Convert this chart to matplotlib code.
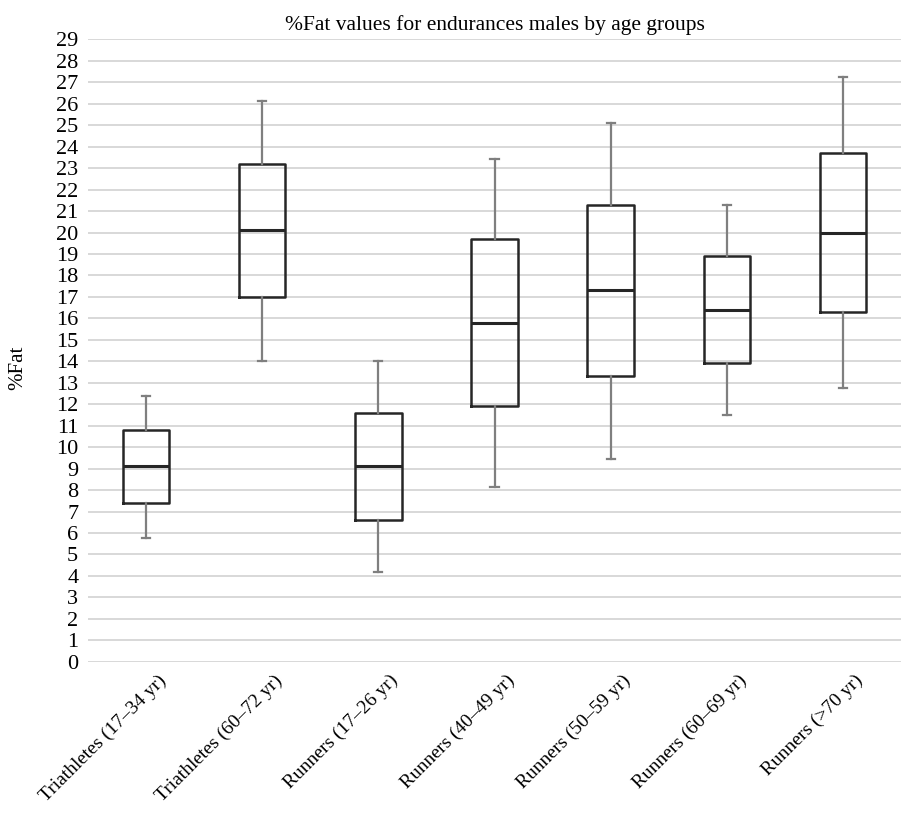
import matplotlib
matplotlib.use("Agg")
from matplotlib import pyplot as plt
from matplotlib import transforms

groups = ["Triathletes (17\u201334 yr)", "Triathletes (60\u201372 yr)", "Runners (17\u201326 yr)",
          "Runners (40\u201349 yr)", "Runners (50\u201359 yr)", "Runners (60\u201369 yr)", "Runners (>70 yr)"]
whisker_low = [5.75, 14.0, 4.2, 8.15, 9.45, 11.5, 12.75]
q1 = [7.4, 17.0, 6.6, 11.9, 13.3, 13.9, 16.3]
median = [9.1, 20.1, 9.1, 15.8, 17.3, 16.4, 20.0]
q3 = [10.8, 23.2, 11.6, 19.7, 21.3, 18.9, 23.7]
whisker_high = [12.4, 26.15, 14.0, 23.45, 25.1, 21.3, 27.25]

plt.rcParams['font.family'] = ['Liberation Serif', 'DejaVu Serif']

stats = []
for i in range(len(groups)):
    stats.append({'whislo': whisker_low[i], 'q1': q1[i], 'med': median[i],
                  'q3': q3[i], 'whishi': whisker_high[i], 'fliers': [], 'label': groups[i]})

fig = plt.figure(figsize=(9.01, 8.21), dpi=100)
ax = fig.add_axes([0.0977, 0.194, 0.9023, 0.758])

ax.bxp(stats, widths=0.4, showfliers=False,
       boxprops=dict(color='#262626', linewidth=1.8),
       medianprops=dict(color='#262626', linewidth=2.2),
       whiskerprops=dict(color='#7f7f7f', linewidth=1.6),
       capprops=dict(color='#7f7f7f', linewidth=1.6), capwidths=0.07)

ax.set_ylim(0, 29)
ax.set_xlim(0.5, 7.5)
ax.set_yticks(range(0, 30))
ax.yaxis.grid(True, color='#d2d2d2', linewidth=1.2)
ax.set_axisbelow(True)
for s in ax.spines.values():
    s.set_visible(False)
ax.tick_params(axis='both', length=0)
ax.tick_params(axis='y', pad=7, labelsize=16)
ax.set_xticks(range(1, 8))
ax.set_xticklabels(groups, rotation=45, ha='right', rotation_mode='anchor', fontsize=14)
shift = transforms.ScaledTranslation(11 / 100, -5 / 100, fig.dpi_scale_trans)
for lab in ax.get_xticklabels():
    lab.set_transform(lab.get_transform() + shift)
ax.set_ylabel("%Fat", fontsize=15)
ax.yaxis.set_label_coords(-0.075, 0.472)
ax.set_title("%Fat values for endurances males by age groups", fontsize=15.5, pad=7)

plt.savefig("out.png", dpi=100)
